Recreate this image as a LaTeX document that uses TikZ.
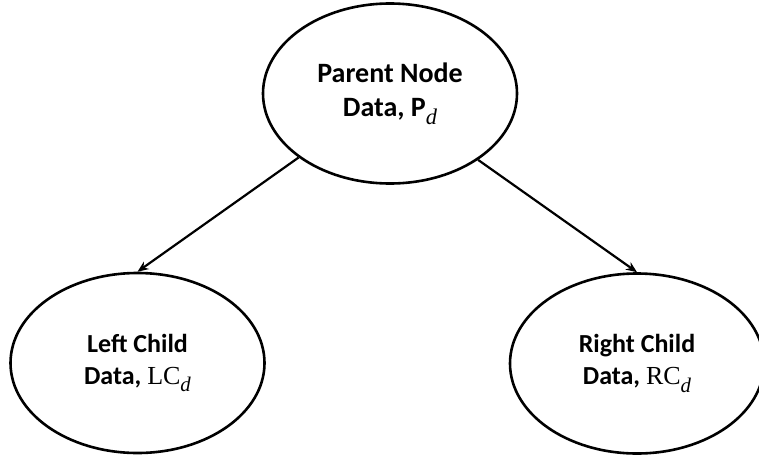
\documentclass[tikz,border=0pt]{standalone}
\usepackage{fontspec}
\setmainfont{Carlito}
\newfontfamily\serifmath{Liberation Serif}
\usetikzlibrary{shapes.geometric,arrows.meta}
\newcommand{\subd}{\raisebox{-0.28em}{\fontsize{0.8\dimexpr\fontdimen6\font\relax}{0pt}\selectfont\mdseries\serifmath\itshape d}}
\tikzset{
  treenode/.style={ellipse, draw=black, line width=2.6pt, minimum width=254pt, minimum height=180pt, inner sep=0pt, align=center},
  link/.style={line width=2.2pt, -{Stealth[length=11pt,width=9pt]}}
}
\begin{document}
\begin{tikzpicture}[x=1pt,y=-1pt]
\useasboundingbox (0,0) rectangle (759,458);
\node[treenode, font=\fontsize{28}{34}\selectfont\bfseries] (p) at (390,93.5) {Parent Node\\Data, P\subd};
\node[treenode, font=\fontsize{26}{32}\selectfont\bfseries] (lc) at (137.5,363) {Left Child\\Data, {\mdseries\serifmath LC}\subd};
\node[treenode, font=\fontsize{26}{32}\selectfont\bfseries] (rc) at (637,363.5) {Right Child\\Data, {\mdseries\serifmath RC}\subd};
\draw[link] (p.215.75) -- (lc.north);
\draw[link] (p.323.6) -- (rc.north);
\end{tikzpicture}
\end{document}
